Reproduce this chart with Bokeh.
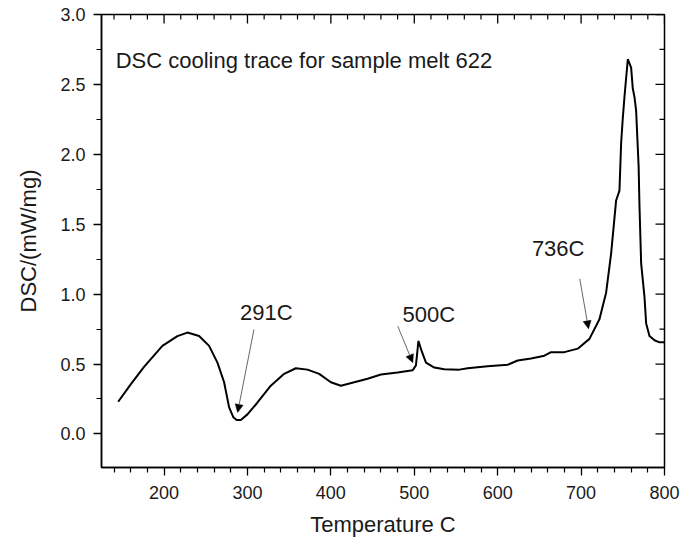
import math
from bokeh.plotting import figure
from bokeh.models import (Range1d, LinearAxis, FixedTicker, PrintfTickFormatter,
                          Label, Arrow, NormalHead)
from bokeh.embed import file_html
from bokeh.resources import INLINE

# ---- data ----
temperature = [145, 160, 176, 198, 216, 228, 242, 254, 264, 272, 278, 283, 287, 292,
               300, 312, 328, 344, 358, 372, 386, 400, 412, 428, 444, 460, 480, 498,
               502, 505, 509, 514, 524, 536, 554, 564, 588, 612, 624, 640, 656, 664,
               680, 696, 710, 722, 730, 736, 742, 746, 748, 750, 752, 756, 760, 762,
               764, 766, 769, 770, 772, 776, 778, 782, 788, 794, 800]
dsc = [0.23, 0.355, 0.48, 0.63, 0.70, 0.725, 0.70, 0.63, 0.51, 0.37, 0.19, 0.12, 0.10, 0.10,
       0.14, 0.225, 0.345, 0.43, 0.47, 0.46, 0.43, 0.37, 0.345, 0.37, 0.395, 0.425, 0.44, 0.455,
       0.49, 0.665, 0.59, 0.51, 0.475, 0.463, 0.46, 0.47, 0.485, 0.495, 0.525, 0.54, 0.56, 0.585,
       0.585, 0.61, 0.68, 0.82, 1.01, 1.29, 1.67, 1.74, 2.08, 2.26, 2.41, 2.68, 2.62, 2.47,
       2.41, 2.31, 1.91, 1.63, 1.22, 0.98, 0.79, 0.70, 0.67, 0.655, 0.655]

x_major_ticks = [200, 300, 400, 500, 600, 700, 800]
x_minor_ticks = [140, 160, 180, 220, 240, 260, 280, 320, 340, 360, 380, 420, 440, 460, 480,
                 520, 540, 560, 580, 620, 640, 660, 680, 720, 740, 760, 780]
y_major_ticks = [0.0, 0.5, 1.0, 1.5, 2.0, 2.5, 3.0]
y_minor_ticks = [0.25, 0.75, 1.25, 1.75, 2.25, 2.75]

peak_labels = ["291C", "500C", "736C"]
title_text = "DSC cooling trace for sample melt 622"

X_MIN, X_MAX = 125, 800
Y_MIN, Y_MAX = -0.24, 3.0
FONT = "Liberation Sans"
INK = "#1a1a1a"

p = figure(width=682, height=539, x_range=Range1d(X_MIN, X_MAX), y_range=Range1d(Y_MIN, Y_MAX),
           output_backend="svg", toolbar_location=None,
           x_axis_location=None, y_axis_location=None,
           min_border_left=101, min_border_right=18, min_border_top=14, min_border_bottom=71)
p.xgrid.visible = False
p.ygrid.visible = False
p.outline_line_color = "black"
p.outline_line_width = 1.5
p.background_fill_color = "white"
p.border_fill_color = "white"


def style(ax):
    ax.axis_line_color = "black"
    ax.axis_line_width = 1.5
    ax.major_tick_line_color = "black"
    ax.minor_tick_line_color = "black"
    ax.major_tick_line_width = 1.3
    ax.minor_tick_line_width = 1.2
    ax.major_tick_in = 0
    ax.major_tick_out = 8
    ax.minor_tick_in = 0
    ax.minor_tick_out = 5
    ax.major_label_text_font = FONT
    ax.major_label_text_color = INK
    ax.major_label_text_font_size = "18px"
    ax.axis_label_text_font = FONT
    ax.axis_label_text_font_style = "normal"
    ax.axis_label_text_color = INK
    ax.axis_label_text_font_size = "22px"


xb = LinearAxis(ticker=FixedTicker(ticks=x_major_ticks, minor_ticks=x_minor_ticks),
                axis_label="Temperature C")
style(xb)
xb.major_label_standoff = 10
xb.axis_label_standoff = 10
p.add_layout(xb, "below")

yl = LinearAxis(ticker=FixedTicker(ticks=y_major_ticks, minor_ticks=y_minor_ticks),
                axis_label="DSC/(mW/mg)", formatter=PrintfTickFormatter(format="%.1f"))
style(yl)
yl.major_label_standoff = 8
yl.axis_label_standoff = 16
p.add_layout(yl, "left")

# inward ticks on the top and right frame edges (drawn from the tick lists)
p.ray(x=x_major_ticks, y=[Y_MAX] * len(x_major_ticks), length=9, length_units="screen",
      angle=-math.pi / 2, line_color="black", line_width=1.3)
p.ray(x=x_minor_ticks, y=[Y_MAX] * len(x_minor_ticks), length=5, length_units="screen",
      angle=-math.pi / 2, line_color="black", line_width=1.2)
p.ray(x=[X_MAX] * len(y_major_ticks), y=y_major_ticks, length=9, length_units="screen",
      angle=math.pi, line_color="black", line_width=1.3)
p.ray(x=[X_MAX] * len(y_minor_ticks), y=y_minor_ticks, length=5, length_units="screen",
      angle=math.pi, line_color="black", line_width=1.2)

p.line(temperature, dsc, line_color="black", line_width=2)

# title text inside plot
p.add_layout(Label(x=142, y=2.674, text=title_text, text_font=FONT, text_font_size="22px",
                   text_color=INK, text_baseline="alphabetic", text_align="left"))

# peak labels
label_pos = [(291, 0.866), (486, 0.854), (641, 1.324)]
for txt, (lx, ly) in zip(peak_labels, label_pos):
    p.add_layout(Label(x=lx, y=ly, text=txt, text_font=FONT, text_font_size="22px",
                       text_color=INK, text_baseline="alphabetic", text_align="left"))

# arrows
arrows = [((307.8, 0.747), (288.2, 0.154)),
          ((480.2, 0.771), (498.2, 0.510)),
          ((698.4, 1.110), (708.9, 0.752))]
for (xs, ys), (xe, ye) in arrows:
    p.add_layout(Arrow(end=NormalHead(size=8, fill_color="black", line_color="black", line_width=0.5),
                       x_start=xs, y_start=ys, x_end=xe, y_end=ye,
                       line_color="#666666", line_width=1))

open("out.html", "w").write(file_html(p, INLINE))
